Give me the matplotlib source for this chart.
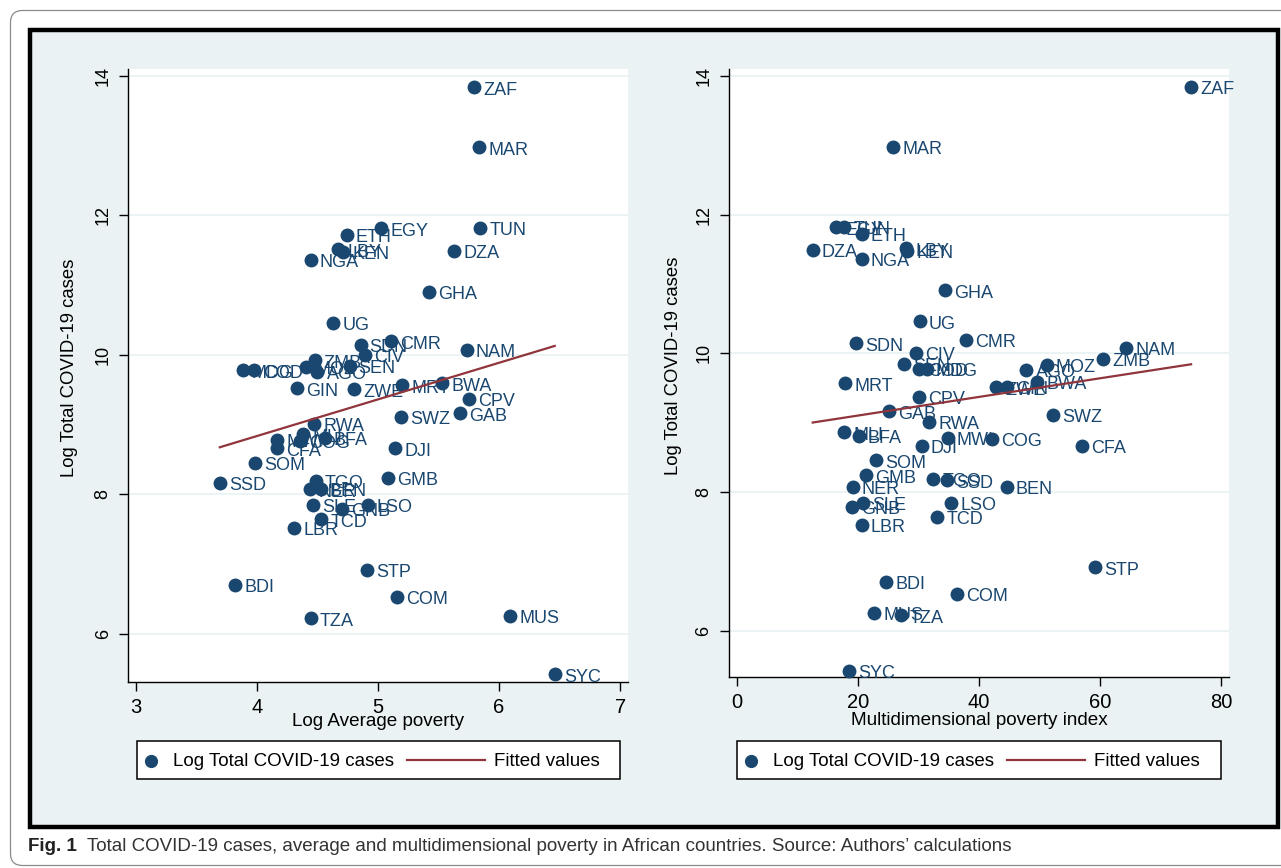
import matplotlib
matplotlib.use('Agg')
import matplotlib.pyplot as plt
from matplotlib.patches import FancyBboxPatch, Rectangle

plt.rcParams['font.family'] = ['Liberation Sans', 'DejaVu Sans']

# ---------------- data ----------------
countries = ['ZAF', 'MAR', 'EGY', 'TUN', 'ETH', 'LBY', 'KEN', 'DZA', 'NGA', 'GHA',
             'UG', 'SDN', 'CMR', 'CIV', 'NAM', 'ZMB', 'MOZ', 'SEN', 'AGO', 'MDG',
             'COD', 'GIN', 'ZWE', 'MRT', 'BWA', 'CPV', 'SWZ', 'GAB', 'RWA', 'MLI',
             'BFA', 'MWI', 'COG', 'CFA', 'DJI', 'SOM', 'SSD', 'TGO', 'GMB', 'NER',
             'BEN', 'SLE', 'GNB', 'LSO', 'TCD', 'LBR', 'STP', 'BDI', 'COM', 'TZA',
             'MUS', 'SYC']
log_cases = [13.84, 12.98, 11.816, 11.825, 11.725, 11.515, 11.48, 11.495, 11.362, 10.907,
             10.463, 10.143, 10.196, 10.005, 10.076, 9.924, 9.832, 9.847, 9.76, 9.78,
             9.78, 9.52, 9.51, 9.566, 9.594, 9.37, 9.115, 9.164, 9.015, 8.863,
             8.814, 8.78, 8.767, 8.663, 8.663, 8.456, 8.17, 8.194, 8.241, 8.075,
             8.08, 7.85, 7.792, 7.85, 7.644, 7.524, 6.918, 6.703, 6.535, 6.225,
             6.262, 5.42]
log_avg_poverty = [5.795, 5.836, 5.026, 5.844, 4.74, 4.668, 4.709, 5.63, 4.443, 5.418,
                   4.63, 4.855, 5.11, 4.894, 5.731, 4.476, 4.407, 4.764, 4.498, 3.88,
                   3.973, 4.327, 4.80, 5.198, 5.528, 5.753, 5.193, 5.68, 4.47, 4.38,
                   4.558, 4.168, 4.352, 4.168, 5.143, 3.987, 3.692, 4.484, 5.08, 4.434,
                   4.525, 4.459, 4.70, 4.913, 4.53, 4.305, 4.907, 3.819, 5.16, 4.443,
                   6.089, 6.46]
mpi = [75.08, 25.77, 16.33, 17.71, 20.59, 27.92, 28.1, 12.47, 20.59, 34.37,
       30.18, 19.64, 37.85, 29.57, 64.33, 60.47, 51.2, 27.59, 47.83, 31.34,
       30.12, 44.69, 42.76, 17.88, 49.65, 30.12, 52.2, 25.05, 31.78, 17.71,
       20.09, 34.82, 42.2, 57.1, 30.52, 22.95, 34.65, 32.44, 21.3, 19.1,
       44.58, 20.75, 18.98, 35.42, 33.1, 20.59, 59.25, 24.61, 36.41, 27.04,
       22.62, 18.43]

# fitted values (end points of the fitted lines)
fit_avg_x = [3.692, 6.46]
fit_avg_y = [8.677, 10.13]
fit_mpi_x = [12.47, 75.08]
fit_mpi_y = [9.003, 9.843]

yticks = [6, 8, 10, 12, 14]
xticks_avg = [3, 4, 5, 6, 7]
xticks_mpi = [0, 20, 40, 60, 80]

NAVY = '#1A476F'
MAROON = '#90353B'
BG = '#EAF2F3'

W, H = 1281, 868
fig = plt.figure(figsize=(W / 100, H / 100), dpi=100)
fig.patch.set_facecolor('white')

# background decoration in pixel coordinates
bg = fig.add_axes([0, 0, 1, 1], zorder=0)
bg.set_xlim(0, W)
bg.set_ylim(H, 0)
bg.axis('off')
bg.add_patch(FancyBboxPatch((10.5, 10.5), 1400, 855, boxstyle='round,pad=0,rounding_size=12',
                            fc='white', ec='#8a8a8a', lw=0.9))
bg.add_patch(Rectangle((29.5, 29.5), 1248.5, 797.5, fc=BG, ec='black', lw=3.2))


def px_rect(x0, x1, ytop, ybot):
    return [x0 / W, 1 - ybot / H, (x1 - x0) / W, (ybot - ytop) / H]


def panel(rect, xvals, xlim, ylim, xticks, fitx, fity):
    ax = fig.add_axes(rect, zorder=2)
    ax.set_facecolor('white')
    for s in ['top', 'right']:
        ax.spines[s].set_visible(False)
    for s in ['left', 'bottom']:
        ax.spines[s].set_linewidth(1.0)
        ax.spines[s].set_color('black')
    ax.set_xlim(*xlim)
    ax.set_ylim(*ylim)
    ax.set_xticks(xticks)
    ax.set_yticks(yticks)
    ax.tick_params(axis='both', length=6.5, width=1.0, direction='out',
                   pad=5.5, colors='black')
    ax.tick_params(axis='x', labelsize=14.5, pad=5.0)
    ax.tick_params(axis='y', labelsize=13)
    plt.setp(ax.get_yticklabels(), rotation=90, va='center', ha='right')
    for yy in yticks:
        ax.axhline(yy, color=BG, lw=1.3, zorder=1)
    ax.plot(xvals, log_cases, 'o', ms=9, color=NAVY, mec=NAVY, zorder=3, clip_on=False)
    for name, xi, yi in zip(countries, xvals, log_cases):
        ax.annotate(name, (xi, yi), xytext=(6.6, -5.3), textcoords='offset points',
                    ha='left', va='baseline', color=NAVY, fontsize=13, zorder=4,
                    annotation_clip=False)
    ax.plot(fitx, fity, color=MAROON, lw=1.6, zorder=5)
    return ax


axL = panel(px_rect(128.3, 628.3, 69.3, 681.7), log_avg_poverty, (2.936, 7.068),
            (5.316, 14.096), xticks_avg, fit_avg_x, fit_avg_y)
axR = panel(px_rect(729.0, 1229.3, 69.0, 677.3), mpi, (-1.37, 81.4),
            (5.33, 14.1), xticks_mpi, fit_mpi_x, fit_mpi_y)

# axis titles
fig.text(378.3 / W, 1 - 726 / H, 'Log Average poverty', ha='center', va='baseline', fontsize=13.6)
fig.text(979 / W, 1 - 725 / H, 'Multidimensional poverty index', ha='center', va='baseline', fontsize=13.6)
fig.text(70 / W, 1 - 368 / H, 'Log Total COVID-19 cases', rotation=90, ha='center', va='center', fontsize=13.3)
fig.text(673 / W, 1 - 366 / H, 'Log Total COVID-19 cases', rotation=90, ha='center', va='center', fontsize=13.3)


def legend(x0):
    bg.add_patch(Rectangle((x0, 741), 483.5, 38, fc='white', ec='black', lw=1.1, zorder=3))
    bg.plot([x0 + 14], [760.5], 'o', ms=8.5, color=NAVY, zorder=4)
    bg.text(x0 + 36, 766, 'Log Total COVID-19 cases', fontsize=13.5, va='baseline', zorder=4)
    bg.plot([x0 + 270, x0 + 348], [760, 760], color=MAROON, lw=1.6, zorder=4)
    bg.text(x0 + 357, 766, 'Fitted values', fontsize=13.5, va='baseline', zorder=4)


legend(136.7)
legend(737.0)

# caption
cap_fam = ['Liberation Sans Narrow', 'Liberation Sans', 'DejaVu Sans']
t1 = fig.text(28 / W, 1 - 851 / H, 'Fig. 1', fontsize=14, fontweight='bold', family=cap_fam,
              va='baseline', ha='left', color='#222222')
t2 = fig.text(87 / W, 1 - 851 / H,
              'Total COVID-19 cases, average and multidimensional poverty in African countries. '
              'Source: Authors\u2019 calculations',
              fontsize=14, family=cap_fam, va='baseline', ha='left', color='#333333')
fig.canvas.draw()
r = fig.canvas.get_renderer()
w1 = t1.get_window_extent(r).width
t1.set_fontsize(14 * 49 / w1)
w2 = t2.get_window_extent(r).width
t2.set_fontsize(14 * 933 / w2)

fig.savefig('out.png', dpi=100, facecolor='white')
